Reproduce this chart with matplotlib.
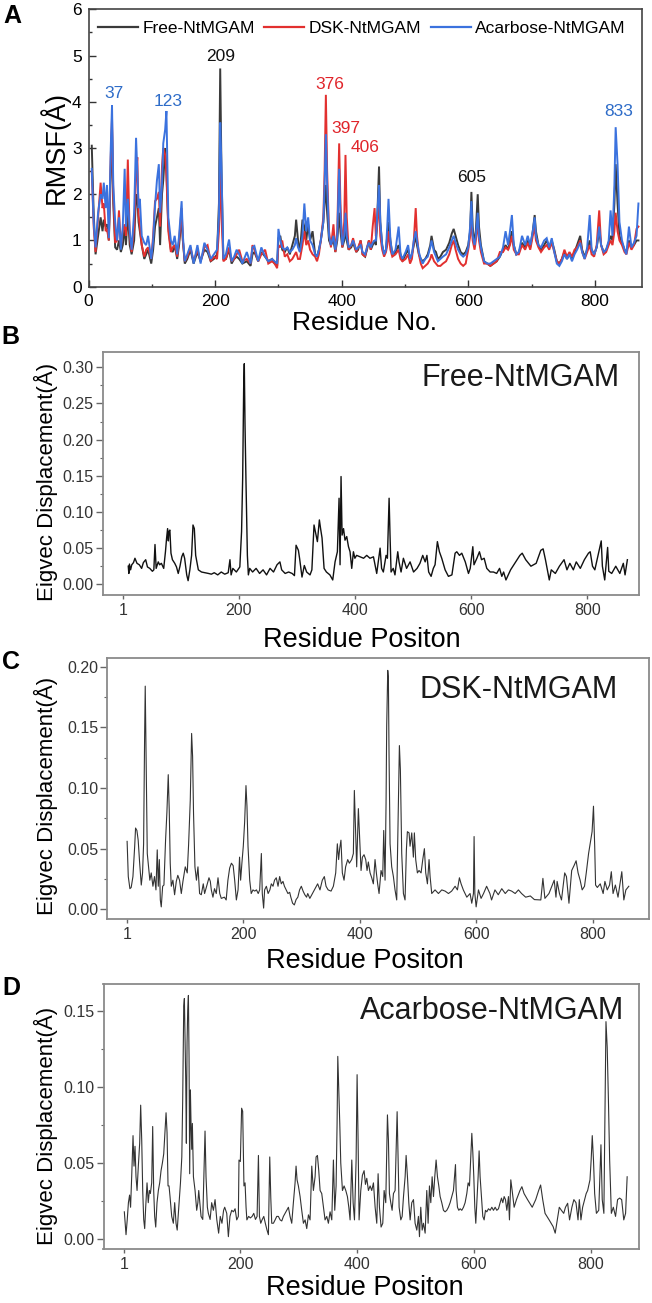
import matplotlib
matplotlib.use("Agg")
import matplotlib.pyplot as plt
from matplotlib import font_manager as fm
from matplotlib.ticker import MultipleLocator, FixedLocator, FormatStrFormatter
from matplotlib.lines import Line2D

# ---------------- Panel A data: RMSF ----------------
res_a = [5, 8, 11, 15, 19, 22, 24, 27, 29, 32,
         35, 37, 39, 42, 45, 48, 51, 54, 57, 59,
         62, 65, 68, 72, 75, 77, 79, 81, 84, 88,
         91, 94, 99, 102, 105, 108, 111, 113, 116, 118,
         121, 123, 126, 130, 133, 136, 140, 143, 147, 149,
         152, 156, 161, 166, 172, 177, 183, 188, 193, 198,
         203, 206, 208, 210, 213, 217, 222, 226, 230, 234,
         238, 243, 250, 256, 259, 262, 268, 273, 279, 284,
         290, 294, 298, 300, 303, 306, 310, 314, 318, 322,
         326, 328, 331, 334, 338, 341, 344, 347, 350, 354,
         358, 361, 364, 367, 371, 373, 375, 377, 380, 383,
         387, 390, 393, 396, 398, 401, 404, 406, 408, 411,
         415, 418, 423, 426, 430, 433, 437, 440, 443, 446,
         449, 452, 454, 456, 459, 461, 464, 467, 470, 472,
         474, 477, 480, 485, 490, 493, 496, 501, 505, 508,
         511, 514, 517, 519, 522, 525, 528, 532, 536, 540,
         542, 546, 549, 552, 556, 560, 565, 570, 574, 577,
         580, 584, 588, 592, 596, 600, 603, 605, 607, 610,
         612, 615, 617, 620, 625, 630, 635, 640, 645, 650,
         655, 659, 663, 666, 669, 672, 676, 680, 685, 690,
         694, 698, 702, 705, 707, 711, 715, 720, 724, 728,
         732, 736, 740, 744, 748, 752, 756, 760, 764, 768,
         772, 777, 780, 784, 788, 792, 795, 799, 803, 807,
         810, 814, 818, 822, 825, 828, 831, 833, 836, 839,
         843, 847, 850, 854, 858, 862, 866, 869]

rmsf_free = [3.05, 1.6, 0.7, 1.1, 1.5, 1.2, 1.45, 1.3, 1.35, 1.0,
             2.5, 3.45, 1.8, 0.85, 0.8, 1.0, 0.75, 0.9, 1.3, 0.9,
             1.6, 0.9, 0.7, 1.0, 2.0, 1.9, 1.4, 1.2, 0.9, 0.6,
             0.7, 0.8, 0.5, 0.8, 1.3, 1.5, 1.7, 0.9, 2.0, 2.3,
             3.0, 2.5, 1.3, 0.8, 0.75, 0.9, 0.6, 0.9, 1.5, 1.0,
             0.5, 0.6, 0.8, 0.5, 0.75, 0.55, 0.8, 0.75, 0.55, 0.6,
             0.7, 1.8, 4.72, 2.5, 0.6, 0.6, 0.8, 0.5, 0.6, 0.65,
             0.6, 0.5, 0.55, 0.45, 0.7, 0.75, 0.55, 0.75, 0.65, 0.55,
             0.6, 0.5, 0.45, 1.05, 1.1, 0.8, 0.75, 0.85, 0.7, 0.9,
             1.1, 1.45, 1.0, 0.75, 1.45, 1.3, 1.0, 1.35, 1.0, 1.2,
             0.7, 0.65, 0.8, 1.0, 1.4, 1.8, 2.2, 1.6, 1.0, 0.9,
             1.0, 0.75, 1.0, 1.6, 1.2, 0.85, 1.0, 1.2, 1.0, 0.8,
             0.85, 0.95, 0.75, 0.8, 1.0, 0.7, 0.65, 0.8, 1.0, 0.8,
             0.9, 1.0, 0.9, 1.4, 2.6, 1.4, 0.9, 0.7, 0.8, 1.1,
             1.4, 1.0, 0.7, 0.75, 0.9, 0.7, 0.55, 0.7, 0.8, 0.6,
             0.7, 0.9, 1.1, 0.9, 0.7, 0.6, 0.55, 0.6, 0.7, 0.9,
             1.1, 0.8, 0.75, 0.6, 0.65, 0.75, 0.8, 0.95, 1.15, 1.25,
             1.1, 0.9, 0.75, 0.7, 0.75, 0.9, 1.2, 2.05, 1.3, 0.9,
             1.2, 2.0, 1.3, 0.9, 0.55, 0.5, 0.45, 0.5, 0.55, 0.65,
             0.8, 0.9, 0.8, 1.0, 1.2, 0.9, 0.7, 0.75, 0.95, 0.85,
             1.0, 0.85, 1.2, 1.55, 1.2, 0.9, 0.8, 0.9, 1.0, 0.85,
             1.0, 0.8, 0.55, 0.5, 0.6, 0.75, 0.6, 0.7, 0.6, 0.75,
             0.9, 1.1, 0.8, 0.65, 0.8, 1.0, 0.8, 0.7, 0.85, 1.2,
             0.9, 0.75, 0.8, 0.95, 1.1, 1.0, 1.8, 2.65, 1.8, 1.1,
             0.95, 0.8, 0.75, 1.0, 0.85, 0.9, 1.0, 1.0]

rmsf_dsk = [2.5, 1.3, 0.75, 1.5, 2.25, 1.7, 1.8, 1.2, 1.25, 1.0,
            2.8, 3.65, 2.0, 0.95, 1.0, 1.65, 0.85, 1.2, 1.35, 1.1,
            2.75, 1.1, 0.75, 1.3, 2.4, 2.8, 1.55, 1.3, 0.9, 0.65,
            0.8, 0.85, 0.6, 1.1, 1.85, 1.9, 2.05, 1.3, 2.6, 3.0,
            2.85, 2.4, 1.2, 0.75, 0.85, 0.9, 0.65, 1.0, 1.7, 1.0,
            0.55, 0.65, 0.85, 0.55, 0.8, 0.55, 0.85, 0.9, 0.55, 0.65,
            0.6, 1.2, 2.75, 1.5, 0.55, 0.6, 0.85, 0.55, 0.6, 0.7,
            0.8, 0.55, 0.6, 0.5, 0.9, 0.8, 0.55, 0.7, 0.8, 0.5,
            0.55, 0.5, 0.4, 0.9, 0.85, 1.0, 0.65, 0.7, 0.55, 0.6,
            0.7, 0.75, 0.6, 0.6, 0.9, 1.2, 0.9, 1.0, 0.8, 0.7,
            0.65, 0.55, 0.7, 1.0, 1.5, 2.5, 4.15, 2.5, 1.2, 0.85,
            1.35, 0.75, 1.2, 3.1, 1.8, 0.85, 1.4, 2.85, 1.5, 0.8,
            0.9, 1.05, 0.75, 0.85, 1.0, 0.7, 0.65, 0.85, 1.0, 0.8,
            1.3, 1.7, 1.1, 1.3, 1.9, 1.1, 0.8, 0.65, 0.75, 0.9,
            1.2, 0.8, 0.65, 0.7, 0.8, 0.6, 0.55, 0.6, 0.7, 0.5,
            0.6, 1.0, 1.7, 1.1, 0.7, 0.5, 0.4, 0.45, 0.5, 0.6,
            0.7, 0.55, 0.5, 0.45, 0.45, 0.5, 0.55, 0.7, 0.9, 1.0,
            0.8, 0.6, 0.5, 0.45, 0.5, 0.8, 1.1, 1.5, 1.0, 0.8,
            1.0, 1.4, 1.0, 0.75, 0.5, 0.5, 0.45, 0.5, 0.55, 0.75,
            0.75, 0.85, 0.8, 0.9, 1.1, 0.8, 0.7, 0.7, 0.9, 0.8,
            0.95, 0.8, 1.1, 1.3, 1.0, 0.85, 0.75, 0.85, 0.9, 0.8,
            0.95, 0.75, 0.55, 0.5, 0.6, 0.8, 0.65, 0.75, 0.65, 0.8,
            0.85, 1.0, 0.75, 0.6, 0.75, 0.9, 0.7, 0.65, 0.9, 1.65,
            0.9, 0.7, 0.75, 0.9, 1.0, 0.9, 1.2, 1.6, 1.2, 1.0,
            0.9, 0.75, 0.7, 0.95, 0.8, 0.9, 1.25, 1.3]

rmsf_acarbose = [2.55, 1.4, 0.85, 1.6, 2.0, 1.9, 2.25, 1.7, 2.2, 1.05,
                 3.0, 3.92, 2.2, 1.4, 1.0, 1.5, 0.8, 1.3, 2.55, 1.3,
                 1.9, 1.2, 0.8, 1.6, 3.22, 2.5, 1.7, 1.9, 1.1, 0.95,
                 0.9, 1.1, 0.6, 1.0, 1.75, 2.3, 2.65, 1.6, 2.2, 3.1,
                 3.4, 3.8, 1.5, 1.0, 0.9, 1.1, 0.7, 1.1, 1.85, 1.1,
                 0.55, 0.7, 0.9, 0.5, 0.9, 0.5, 0.95, 0.8, 0.6, 0.7,
                 0.8, 1.5, 3.55, 2.6, 0.6, 0.7, 1.02, 0.55, 0.65, 0.8,
                 0.7, 0.5, 0.75, 0.5, 0.85, 0.88, 0.55, 0.85, 0.65, 0.55,
                 0.6, 0.55, 0.5, 1.25, 1.0, 0.85, 0.8, 0.85, 0.75, 0.8,
                 0.9, 1.05, 0.85, 0.75, 1.1, 1.8, 1.2, 1.5, 1.0, 0.9,
                 0.7, 0.65, 0.8, 1.0, 1.4, 2.2, 3.3, 2.2, 1.1, 0.9,
                 1.1, 0.8, 1.1, 2.55, 1.6, 0.9, 1.1, 1.6, 1.1, 0.85,
                 0.9, 1.0, 0.8, 0.85, 0.9, 0.75, 0.7, 0.85, 0.95, 0.85,
                 0.95, 1.0, 1.0, 1.5, 2.2, 1.4, 0.9, 0.7, 0.8, 1.3,
                 1.9, 1.0, 0.7, 0.8, 1.3, 0.7, 0.6, 0.75, 0.9, 0.6,
                 0.7, 1.0, 1.2, 1.0, 0.75, 0.6, 0.5, 0.6, 0.65, 0.85,
                 1.0, 0.75, 0.65, 0.55, 0.6, 0.65, 0.7, 0.85, 1.0, 1.1,
                 0.95, 0.8, 0.7, 0.65, 0.7, 0.85, 1.3, 1.85, 1.1, 0.9,
                 1.1, 1.6, 1.1, 0.85, 0.55, 0.5, 0.5, 0.55, 0.6, 0.65,
                 0.85, 1.2, 0.9, 1.2, 1.55, 0.9, 0.7, 0.75, 1.1, 0.9,
                 1.1, 0.9, 1.2, 1.5, 1.1, 0.9, 0.85, 1.0, 1.05, 0.85,
                 1.05, 0.75, 0.5, 0.45, 0.55, 0.7, 0.6, 0.7, 0.55, 0.7,
                 0.8, 0.95, 0.75, 0.6, 0.85, 1.55, 0.8, 0.7, 0.85, 1.3,
                 0.9, 0.75, 0.8, 1.0, 1.65, 1.1, 2.2, 3.45, 2.65, 1.4,
                 1.0, 0.8, 0.7, 1.3, 0.85, 0.95, 1.1, 1.8]

series_names = ["Free-NtMGAM", "DSK-NtMGAM", "Acarbose-NtMGAM"]
peak_labels = ["37", "123", "209", "376", "397", "406", "605", "833"]
peak_x = [40, 125.5, 209, 380.6, 407, 437.5, 604.6, 837.5]
peak_y = [4.18, 4.0, 4.98, 4.38, 3.43, 3.0, 2.36, 3.78]
peak_series = [2, 2, 0, 1, 1, 1, 0, 2]

# ---------------- Panel B data: Free-NtMGAM eigvec ----------------
res_b = [10, 11, 12, 14, 16, 19, 21.5, 25, 29, 33,
         36, 40, 43, 47, 51.5, 54, 56, 58, 61.6, 64,
         67, 71, 74, 76, 77.7, 79, 80, 81.6, 83.5, 86,
         90, 93, 96, 99, 102, 104.6, 107, 110.6, 113, 116,
         119, 121.4, 123.7, 126, 130.6, 136, 142, 148, 153, 158,
         164, 170, 176, 182, 185, 187, 190, 196, 202, 205,
         206.9, 208.6, 209.7, 210.9, 212.6, 215, 216.7, 219, 224, 230,
         236, 242, 248, 254, 260, 266, 271, 274, 280, 286,
         292, 296, 298.8, 302.8, 305, 309, 313, 317, 322.8, 326,
         329.7, 332, 335.5, 338.9, 341, 343.5, 347, 351, 357, 361.9,
         365.9, 369.9, 372.8, 374.5, 376.2, 378, 380.5, 383, 386, 389,
         391.7, 394.6, 397.5, 400, 403, 409, 415, 420.4, 426, 432,
         437.6, 443.4, 446, 449, 453.7, 456, 458.9, 460.5, 462.3, 466,
         469, 473.8, 476, 479.5, 483.5, 489, 495, 501, 507, 512,
         516.8, 521, 524, 527, 531.2, 535, 538, 542, 545.5, 549.5,
         555.3, 561, 567, 572.5, 575.4, 580, 584, 590, 595.5, 598.5,
         603, 605, 610, 614.4, 618, 622.5, 627, 632.8, 638.5, 644,
         649, 652.9, 656, 660, 668, 676, 684, 688, 694, 703,
         712, 720, 724, 728, 734.6, 738, 745, 752, 760, 765,
         770, 776, 781, 788, 795, 802, 805, 809, 813, 824,
         826, 830, 835, 837, 842, 849, 856, 862, 865, 869]
disp_b = [0.025, 0.015, 0.028, 0.02, 0.027, 0.03, 0.036, 0.029, 0.027, 0.022,
          0.03, 0.034, 0.024, 0.022, 0.018, 0.02, 0.055, 0.022, 0.031, 0.027,
          0.029, 0.022, 0.045, 0.064, 0.077, 0.06, 0.073, 0.075, 0.043, 0.034,
          0.029, 0.024, 0.015, 0.025, 0.038, 0.043, 0.036, 0.013, 0.005, 0.02,
          0.04, 0.082, 0.077, 0.04, 0.02, 0.017, 0.016, 0.015, 0.014, 0.016,
          0.013, 0.017, 0.014, 0.016, 0.034, 0.013, 0.022, 0.017, 0.024, 0.073,
          0.147, 0.271, 0.305, 0.222, 0.142, 0.04, 0.013, 0.022, 0.017, 0.022,
          0.015, 0.02, 0.013, 0.022, 0.017, 0.027, 0.031, 0.02, 0.015, 0.017,
          0.015, 0.012, 0.054, 0.047, 0.035, 0.01, 0.026, 0.017, 0.013, 0.02,
          0.082, 0.073, 0.059, 0.089, 0.077, 0.064, 0.022, 0.017, 0.013, 0.006,
          0.031, 0.045, 0.119, 0.027, 0.149, 0.068, 0.077, 0.061, 0.066, 0.052,
          0.045, 0.022, 0.045, 0.036, 0.04, 0.038, 0.036, 0.04, 0.036, 0.038,
          0.015, 0.05, 0.022, 0.017, 0.04, 0.036, 0.119, 0.068, 0.017, 0.022,
          0.013, 0.045, 0.031, 0.017, 0.036, 0.022, 0.031, 0.017, 0.022, 0.029,
          0.04, 0.031, 0.04, 0.017, 0.011, 0.022, 0.027, 0.059, 0.045, 0.036,
          0.02, 0.011, 0.013, 0.043, 0.045, 0.04, 0.043, 0.031, 0.015, 0.022,
          0.052, 0.027, 0.036, 0.045, 0.034, 0.036, 0.022, 0.017, 0.017, 0.015,
          0.022, 0.011, 0.017, 0.006, 0.02, 0.03, 0.04, 0.043, 0.034, 0.025,
          0.029, 0.047, 0.049, 0.034, 0.006, 0.02, 0.015, 0.025, 0.034, 0.02,
          0.029, 0.02, 0.031, 0.022, 0.034, 0.043, 0.045, 0.025, 0.02, 0.06,
          0.025, 0.006, 0.051, 0.018, 0.015, 0.025, 0.015, 0.029, 0.013, 0.034]

# ---------------- Panel C data: DSK-NtMGAM eigvec ----------------
res_c = [1, 3, 5.8, 8, 11, 14, 15.5, 17.8, 20, 22.4,
         25.3, 27.5, 29.3, 31, 32.1, 33.9, 35.6, 37.8, 40, 42.4,
         45.3, 48, 50.5, 52.7, 54.5, 56.3, 58, 59.6, 62, 64.2,
         67, 69.3, 71.6, 73.3, 75, 76.8, 79.6, 82.5, 85.4, 88,
         91, 94, 96.8, 100.8, 104.2, 106.5, 109.4, 111.7, 113.4, 115,
         117.4, 120, 122.6, 125.4, 128.3, 131.7, 134, 137.5, 141.5, 143.8,
         145.5, 148.3, 151, 154, 157, 160, 162.6, 168, 171, 174,
         177, 180, 183, 185.6, 188.5, 191.4, 194, 195.8, 198, 200.4,
         202.7, 205, 206.7, 208.5, 211.4, 214, 217, 220, 223, 226,
         228.5, 231.4, 233, 235.3, 237, 240, 243, 246, 248.5, 251.4,
         254, 257, 260, 262.8, 265.6, 268.5, 271, 274, 277, 280,
         282, 285, 288, 291, 294, 297, 300, 303, 306, 309,
         311, 314.6, 319, 323.5, 328, 332, 336, 339.5, 342.4, 346,
         351, 355, 359, 361.8, 364, 365.8, 368, 370.4, 373.3, 376,
         379.6, 382.4, 386.4, 389.3, 391, 393.3, 395, 397.9, 400.2, 402.5,
         404.8, 407.6, 410.5, 412.8, 415, 418, 420.8, 423.6, 426.5, 428.8,
         431, 433.4, 436.8, 439.7, 441.4, 443.7, 445.4, 446.5, 448.3, 449.4,
         450.5, 452.3, 455.1, 458, 460.8, 463.7, 466.6, 468.3, 470, 472.3,
         475.2, 478, 480.3, 482, 484.9, 486.6, 489.5, 492.3, 494, 496.3,
         499.2, 502, 505.5, 508.4, 511.2, 513.5, 516.4, 519.2, 521, 523.8,
         529.5, 535.3, 541, 546.8, 552.5, 558, 563.9, 567.9, 571.3, 574.2,
         578, 584, 589.6, 592.5, 595.4, 596.5, 597.8, 600, 604, 608.5,
         612.7, 618, 623.6, 626.5, 632.3, 638, 644, 650, 655.4, 661,
         667, 672.6, 678, 685, 693, 700, 711, 714.6, 718, 725,
         734, 737, 739, 743, 746.5, 752, 755, 759.3, 764, 768,
         771.6, 775, 778.5, 782, 786, 789, 793, 799, 801.4, 803.5,
         805, 808, 813, 818, 821, 825, 829, 832, 835, 839,
         843.5, 850, 853.5, 857, 862]
disp_c = [0.056, 0.027, 0.017, 0.018, 0.027, 0.052, 0.067, 0.065, 0.057, 0.039,
          0.02, 0.03, 0.054, 0.141, 0.184, 0.115, 0.046, 0.035, 0.024, 0.03,
          0.019, 0.027, 0.016, 0.049, 0.019, 0.041, 0.0077, 0.002, 0.019, 0.02,
          0.057, 0.08, 0.111, 0.082, 0.038, 0.019, 0.024, 0.012, 0.023, 0.028,
          0.024, 0.013, 0.023, 0.035, 0.03, 0.053, 0.09, 0.145, 0.126, 0.079,
          0.035, 0.024, 0.035, 0.013, 0.012, 0.021, 0.013, 0.019, 0.026, 0.023,
          0.016, 0.01, 0.017, 0.013, 0.026, 0.013, 0.009, 0.01, 0.0077, 0.024,
          0.034, 0.038, 0.036, 0.024, 0.0077, 0.016, 0.043, 0.024, 0.038, 0.052,
          0.072, 0.102, 0.085, 0.052, 0.024, 0.013, 0.016, 0.015, 0.016, 0.013,
          0.016, 0.046, 0.013, 0.001, 0.016, 0.019, 0.013, 0.016, 0.021, 0.019,
          0.024, 0.026, 0.019, 0.027, 0.021, 0.023, 0.019, 0.016, 0.013, 0.014,
          0.01, 0.005, 0.0036, 0.008, 0.01, 0.016, 0.019, 0.015, 0.012, 0.01,
          0.013, 0.009, 0.013, 0.017, 0.021, 0.016, 0.024, 0.027, 0.019, 0.016,
          0.015, 0.019, 0.03, 0.054, 0.041, 0.05, 0.057, 0.03, 0.024, 0.035,
          0.041, 0.038, 0.041, 0.046, 0.098, 0.063, 0.035, 0.083, 0.057, 0.032,
          0.043, 0.045, 0.041, 0.032, 0.039, 0.03, 0.026, 0.021, 0.041, 0.03,
          0.021, 0.013, 0.032, 0.027, 0.065, 0.024, 0.087, 0.151, 0.197, 0.191,
          0.129, 0.054, 0.035, 0.027, 0.016, 0.0077, 0.09, 0.135, 0.115, 0.046,
          0.013, 0.0077, 0.049, 0.064, 0.063, 0.052, 0.063, 0.043, 0.063, 0.041,
          0.03, 0.032, 0.03, 0.041, 0.05, 0.03, 0.021, 0.041, 0.027, 0.013,
          0.016, 0.013, 0.016, 0.015, 0.013, 0.015, 0.019, 0.016, 0.026, 0.021,
          0.016, 0.01, 0.013, 0.005, 0.013, 0.06, 0.013, 0.002, 0.016, 0.009,
          0.013, 0.019, 0.013, 0.0077, 0.016, 0.012, 0.017, 0.013, 0.016, 0.015,
          0.013, 0.016, 0.013, 0.01, 0.011, 0.008, 0.0077, 0.0255, 0.009, 0.013,
          0.024, 0.01, 0.023, 0.013, 0.0077, 0.03, 0.027, 0.005, 0.032, 0.036,
          0.04, 0.03, 0.024, 0.016, 0.019, 0.03, 0.046, 0.064, 0.085, 0.052,
          0.02, 0.018, 0.021, 0.013, 0.023, 0.016, 0.02, 0.031, 0.013, 0.02,
          0.01, 0.031, 0.0077, 0.016, 0.019]

# ---------------- Panel D data: Acarbose-NtMGAM eigvec ----------------
res_d = [1, 3.9, 6, 8, 10, 11.7, 13.6, 15.9, 17.6, 19.3,
         21, 22.8, 25, 27.3, 29, 30.8, 32.5, 34.2, 35.9, 37.6,
         39.9, 42, 43.9, 45.6, 47.9, 49.6, 51.3, 53, 54.8, 57,
         59.3, 61.6, 63.9, 66.2, 68.5, 70.8, 72.5, 74.2, 75.9, 77.6,
         79.3, 82.2, 85, 87.3, 89.6, 91.6, 94.4, 97.2, 99.5, 101,
         102.8, 103.9, 105, 106.2, 107.3, 108.5, 109.6, 110.8, 111.9, 113,
         114.2, 115.3, 116.5, 117.6, 119.4, 122.2, 125, 127, 128.5, 130.8,
         132.5, 135.4, 139.3, 141, 143.3, 145, 148, 150.7, 153.6, 156.5,
         159.4, 162.6, 165.4, 168.3, 171.1, 173, 176.5, 179.3, 182, 185,
         188, 190.8, 193.6, 196.4, 197.5, 199.8, 202, 203.8, 206, 207.9,
         209.6, 211, 214, 217, 220, 222.8, 225.7, 228.5, 230.8, 232.5,
         234.8, 237, 240, 242.6, 245.5, 247.9, 250.2, 252, 253.6, 256.5,
         259.4, 262.2, 265, 268, 270.8, 273.6, 276.5, 279.4, 282.2, 285,
         287.9, 290.7, 293.6, 295.3, 297, 299.3, 302.2, 305, 307.9, 310.8,
         313.6, 316.5, 319.3, 322.2, 325, 327.9, 329.6, 331.9, 334.2, 336.5,
         339.3, 342.2, 345, 347.9, 350.7, 353.6, 356.5, 359.3, 361.6, 363.9,
         365.6, 366.8, 368.5, 370.2, 371.9, 374.8, 377.6, 380.5, 383.3, 385.7,
         387.9, 390.8, 393.1, 395.4, 398.2, 399.9, 401.6, 403.3, 406.2, 409,
         411.9, 414.2, 416.5, 419.3, 422.2, 425, 427.9, 430.8, 433.6, 435.9,
         438.2, 441, 443.9, 446.2, 449, 451.9, 453.6, 455.3, 457.6, 459.9,
         462.2, 465, 466.8, 468.5, 470.2, 471.9, 474.8, 477.1, 479.4, 482.2,
         483.9, 486.2, 488.5, 490.8, 493.6, 496.5, 499.3, 502.2, 505, 506.8,
         509, 511.4, 513.6, 516.5, 519.3, 521.6, 523.9, 526.2, 528.5, 530.8,
         533, 535.3, 537.6, 539.9, 542.2, 545, 547.9, 550.7, 553.6, 556.4,
         559.3, 562.2, 565, 566.8, 568.5, 569.6, 571.9, 574.2, 576.5, 579.3,
         582.2, 585, 587.9, 590.2, 592.5, 594.8, 596.5, 598.2, 599.9, 601.6,
         603.3, 605, 607.3, 609, 610.7, 613, 615.3, 617.6, 619.9, 622.2,
         625, 627.9, 630.8, 633.6, 636.5, 639.3, 642.2, 645, 647.3, 649.6,
         651.9, 654.2, 656.5, 659.3, 661, 663.3, 665.6, 669, 673, 679,
         682.3, 686, 692, 700, 706, 711, 714.4, 718, 722, 729,
         735.8, 739.4, 743, 746.4, 750, 754, 757, 760.7, 764, 768,
         771.4, 775, 778.5, 780.7, 783.5, 786.4, 792.5, 795, 799, 801,
         802.9, 805, 807, 810, 814, 817.8, 820, 822.8, 825, 826.4,
         828.5, 830.6, 832.7, 835.6, 839, 842.8, 846.3, 849.8, 853.3, 856.9,
         860, 862.7]
disp_d = [0.018, 0.003, 0.013, 0.024, 0.029, 0.021, 0.041, 0.068, 0.048, 0.061,
          0.041, 0.032, 0.048, 0.063, 0.088, 0.065, 0.032, 0.013, 0.007, 0.021,
          0.037, 0.024, 0.032, 0.03, 0.037, 0.074, 0.032, 0.015, 0.008, 0.024,
          0.032, 0.037, 0.045, 0.05, 0.056, 0.072, 0.083, 0.07, 0.035, 0.035,
          0.028, 0.015, 0.0105, 0.024, 0.0105, 0.006, 0.021, 0.037, 0.054, 0.091,
          0.153, 0.158, 0.132, 0.105, 0.063, 0.129, 0.15, 0.16, 0.12, 0.043,
          0.098, 0.076, 0.059, 0.076, 0.041, 0.032, 0.019, 0.024, 0.032, 0.022,
          0.015, 0.013, 0.071, 0.041, 0.021, 0.017, 0.013, 0.024, 0.019, 0.026,
          0.013, 0.004, 0.015, 0.0105, 0.019, 0.021, 0.017, 0.0017, 0.015, 0.019,
          0.018, 0.02, 0.0127, 0.015, 0.052, 0.051, 0.086, 0.084, 0.035, 0.037,
          0.021, 0.0127, 0.015, 0.014, 0.015, 0.017, 0.013, 0.015, 0.055, 0.015,
          0.0105, 0.0127, 0.015, 0.0105, 0.006, 0.003, 0.054, 0.027, 0.0105, 0.0105,
          0.0127, 0.015, 0.015, 0.0127, 0.012, 0.015, 0.017, 0.019, 0.021, 0.015,
          0.0105, 0.024, 0.037, 0.048, 0.039, 0.035, 0.028, 0.019, 0.0105, 0.0127,
          0.007, 0.016, 0.0127, 0.048, 0.032, 0.041, 0.054, 0.055, 0.045, 0.032,
          0.03, 0.021, 0.0127, 0.015, 0.0105, 0.018, 0.0127, 0.052, 0.019, 0.035,
          0.076, 0.12, 0.098, 0.076, 0.05, 0.032, 0.035, 0.032, 0.028, 0.021,
          0.0127, 0.052, 0.024, 0.0127, 0.052, 0.108, 0.065, 0.0127, 0.032, 0.042,
          0.045, 0.036, 0.04, 0.032, 0.035, 0.032, 0.037, 0.021, 0.0105, 0.043,
          0.021, 0.008, 0.0105, 0.032, 0.024, 0.0816, 0.065, 0.03, 0.024, 0.019,
          0.03, 0.032, 0.059, 0.0837, 0.054, 0.021, 0.0127, 0.015, 0.028, 0.041,
          0.055, 0.041, 0.024, 0.0127, 0.024, 0.026, 0.0105, 0.006, 0.015, 0.0017,
          0.021, 0.006, 0.0105, 0.004, 0.032, 0.0105, 0.035, 0.024, 0.041, 0.028,
          0.041, 0.052, 0.041, 0.035, 0.028, 0.024, 0.019, 0.018, 0.019, 0.021,
          0.024, 0.028, 0.032, 0.041, 0.049, 0.032, 0.021, 0.019, 0.02, 0.019,
          0.021, 0.024, 0.03, 0.037, 0.035, 0.054, 0.0695, 0.057, 0.041, 0.021,
          0.0105, 0.024, 0.041, 0.058, 0.041, 0.028, 0.015, 0.0127, 0.019, 0.018,
          0.02, 0.019, 0.021, 0.019, 0.021, 0.019, 0.02, 0.024, 0.027, 0.024,
          0.028, 0.026, 0.019, 0.028, 0.0127, 0.039, 0.032, 0.021, 0.026, 0.032,
          0.0345, 0.03, 0.026, 0.021, 0.026, 0.032, 0.0356, 0.026, 0.017, 0.0127,
          0.0083, 0.004, 0.0127, 0.021, 0.019, 0.017, 0.021, 0.0236, 0.0127, 0.021,
          0.026, 0.024, 0.0127, 0.026, 0.0127, 0.021, 0.03, 0.032, 0.039, 0.052,
          0.068, 0.052, 0.03, 0.017, 0.019, 0.062, 0.026, 0.017, 0.0914, 0.1428,
          0.126, 0.0914, 0.052, 0.017, 0.021, 0.015, 0.026, 0.027, 0.026, 0.0127,
          0.017, 0.041]

eig_ticks_x = [1, 200, 400, 600, 800]
eig_ticks_b = [0.00, 0.05, 0.10, 0.15, 0.20, 0.25, 0.30]
eig_ticks_c = [0.00, 0.05, 0.10, 0.15, 0.20]
eig_ticks_d = [0.00, 0.05, 0.10, 0.15]

for a, b in [(res_a, rmsf_free), (res_a, rmsf_dsk), (res_a, rmsf_acarbose),
             (res_b, disp_b), (res_c, disp_c), (res_d, disp_d)]:
    assert len(a) == len(b), (len(a), len(b))

# ---------------- fonts ----------------
names = {f.name for f in fm.fontManager.ttflist}
SANS = "Liberation Sans" if "Liberation Sans" in names else "DejaVu Sans"
NARROW = "Liberation Sans Narrow" if "Liberation Sans Narrow" in names else None
CJK = "Noto Sans CJK SC" if "Noto Sans CJK SC" in names else SANS
plt.rcParams["font.family"] = [SANS, "DejaVu Sans"]

W, H = 652, 1303
fig = plt.figure(figsize=(W / 100, H / 100), dpi=100)


def rect(l, t, r, b):
    return [l / W, 1 - b / H, (r - l) / W, (b - t) / H]


# ---------------- Panel A ----------------
colors = ["#3a3a3a", "#e2302f", "#3b72de"]
label_colors = ["#111111", "#e0242a", "#2e6cc8"]
axA = fig.add_axes(rect(88.6, 9.3, 641.6, 286.7))
for vals, c in zip([rmsf_free, rmsf_dsk, rmsf_acarbose], colors):
    axA.plot(res_a, vals, color=c, lw=1.4, solid_joinstyle="miter")
axA.set_xlim(0, 874)
axA.set_ylim(0, 6)
axA.xaxis.set_major_locator(MultipleLocator(200))
axA.xaxis.set_minor_locator(MultipleLocator(100))
axA.yaxis.set_major_locator(MultipleLocator(1))
axA.yaxis.set_minor_locator(MultipleLocator(0.5))
axA.tick_params(which="both", direction="in", top=False, right=False, color="#333333")
axA.tick_params(which="major", length=5, width=1.0, labelsize=12.5, pad=5)
axA.tick_params(which="minor", length=2.5, width=1.0)
for s in axA.spines.values():
    s.set_color("#444444")
    s.set_linewidth(1.2)
handles = [Line2D([], [], color=c, lw=1.6) for c in colors]
axA.legend(handles, series_names, loc="center", bbox_to_anchor=(0.494, 0.932), ncol=3,
           frameon=False, fontsize=12.5, handlelength=2.3, handletextpad=0.25,
           columnspacing=0.55, borderpad=0)
for lab, px, py, si in zip(peak_labels, peak_x, peak_y, peak_series):
    axA.text(px, py, lab, color=label_colors[si], fontsize=12.5, ha="center", va="center")

fig.text(54 / W, 1 - 148 / H, "RMSF(Å)", rotation=90, fontsize=19.5, ha="center", va="center")
fig.text(365 / W, 1 - 323 / H, "Residue No.", fontsize=19, ha="center", va="center")

# ---------------- Panels B-D ----------------
def eig_panel(box, res, vals, xlim, ylim, yticks, lc, lw, title, title_xy,
              ylab_xy, xlab_xy):
    ax = fig.add_axes(rect(*box))
    ax.plot(res, vals, color=lc, lw=lw)
    ax.set_xlim(*xlim)
    ax.set_ylim(*ylim)
    ax.xaxis.set_major_locator(FixedLocator(eig_ticks_x))
    ax.yaxis.set_major_locator(FixedLocator(yticks))
    ax.yaxis.set_minor_locator(FixedLocator([t + 0.025 for t in yticks[:-1]]))
    ax.yaxis.set_major_formatter(FormatStrFormatter("%.2f"))
    for s in ax.spines.values():
        s.set_color("#8a8a8a")
        s.set_linewidth(1.3)
    ax.tick_params(which="both", direction="out", color="#666666", top=False, right=False)
    ax.tick_params(axis="y", which="major", length=5, width=1.0, pad=1.5)
    ax.tick_params(axis="y", which="minor", length=2.5, width=0.8)
    ax.tick_params(axis="x", which="major", length=3, width=1.0, pad=3)
    ax.tick_params(axis="x", which="minor", length=0)
    for t in ax.get_xticklabels() + ax.get_yticklabels():
        t.set_color("#333333")
        if NARROW:
            t.set_family(NARROW)
            t.set_fontsize(13)
        else:
            t.set_fontsize(11.5)
    fig.text(title_xy[0] / W, 1 - title_xy[1] / H, title, family=[CJK, SANS],
             fontsize=22, ha="right", va="baseline", color="#1a1a1a")
    fig.text(ylab_xy[0] / W, 1 - ylab_xy[1] / H, "Eigvec Displacement(Å)", rotation=90,
             fontsize=16, ha="center", va="center")
    fig.text(xlab_xy[0] / W, 1 - xlab_xy[1] / H, "Residue Positon", fontsize=19.5,
             ha="center", va="center")
    return ax


eig_panel((102.7, 352, 639, 595), res_b, disp_b, (-34, 889), (-0.0148, 0.3212), eig_ticks_b,
          "#111111", 1.0, series_names[0], (619.5, 386), (46, 482), (362, 640))
eig_panel((107.3, 658, 648.6, 919), res_c, disp_c, (-33, 896), (-0.008, 0.2072), eig_ticks_c,
          "#333333", 0.8, series_names[1], (617.5, 698), (46, 796), (365, 961))
eig_panel((103.5, 984, 639, 1248.7), res_d, disp_d, (-34.7, 883), (-0.0062, 0.1675), eig_ticks_d,
          "#333333", 0.8, series_names[2], (623.7, 1019), (46, 1126), (365, 1288))

# panel letters
for letter, (x, y) in zip("ABCD", [(12, 16), (10, 337), (11, 662), (11, 988)]):
    fig.text(x / W, 1 - y / H, letter, fontsize=18, fontweight="bold", ha="center", va="center")

fig.savefig("out.png", dpi=100)
